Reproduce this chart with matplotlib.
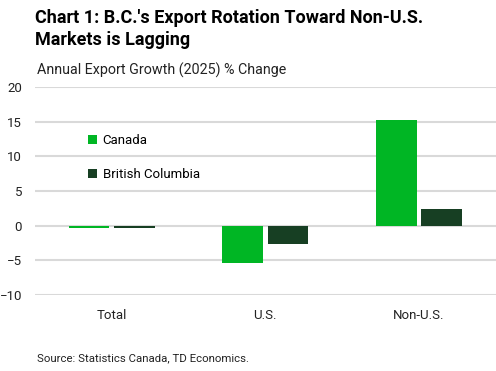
import matplotlib.pyplot as plt
import numpy as np

plt.rcParams['font.family'] = ['Roboto', 'DejaVu Sans']

categories = ['Total', 'U.S.', 'Non-U.S.']
canada = [-0.3, -5.4, 15.2]
bc = [-0.3, -2.6, 2.4]

green = '#00B624'
dark = '#173F23'

fig = plt.figure(figsize=(4.96, 3.71), dpi=100)
ax = fig.add_axes([0.07, 0.205, 0.93, 0.561])

x = np.arange(len(categories))
w = 0.265
ax.bar(x - 0.147, canada, w, color=green, label='Canada')
ax.bar(x + 0.147, bc, w, color=dark, label='British Columbia')

ax.set_xlim(-0.5, 2.5)
ax.set_ylim(-10, 20)
ax.set_yticks(np.arange(-10, 21, 5))
ax.set_xticks(x)
ax.set_xticklabels(categories)
ax.grid(axis='y', color='#D9D9D9', linewidth=1.5)
ax.set_axisbelow(True)
for s in ax.spines.values():
    s.set_visible(False)
ax.tick_params(length=0, labelsize=9.5, colors='#222222')
ax.tick_params(axis='x', pad=10)
ax.tick_params(axis='y', pad=9)

ax.legend(loc='upper left', bbox_to_anchor=(0.09, 0.83), frameon=False,
          handlelength=0.7, handleheight=0.7, handletextpad=0.4,
          labelspacing=1.6, fontsize=9.5)

fig.text(0.07, 0.975, "Chart 1: B.C.'s Export Rotation Toward Non-U.S.\nMarkets is Lagging",
         fontsize=13, fontweight='bold', va='top', ha='left', linespacing=1.3)
fig.text(0.075, 0.81, 'Annual Export Growth (2025) % Change', fontsize=10.3,
         ha='left', va='center', color='#222222')
fig.text(0.075, 0.035, 'Source: Statistics Canada, TD Economics.', fontsize=8.2,
         ha='left', va='center', color='#222222')

fig.savefig('out.png', dpi=100)
